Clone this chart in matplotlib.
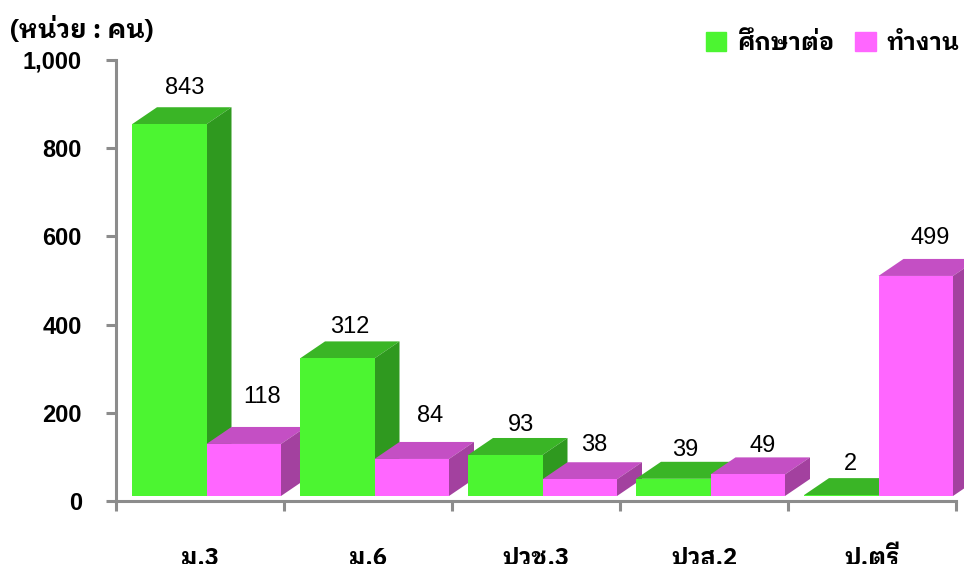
import matplotlib
matplotlib.use("Agg")
import matplotlib.pyplot as plt
from matplotlib import font_manager as fm
from matplotlib.patches import Patch

categories = ["ม.3", "ม.6", "ปวช.3", "ปวส.2", "ป.ตรี"]
study = [843, 312, 93, 39, 2]
work = [118, 84, 38, 49, 499]
series_names = ["ศึกษาต่อ", "ทำงาน"]
y_ticks = [0, 200, 400, 600, 800, 1000]
y_tick_labels = ["0", "200", "400", "600", "800", "1,000"]

W, H = 964, 564
fig = plt.figure(figsize=(W / 100, H / 100), dpi=100)
ax = fig.add_axes([116 / W, 1 - 501 / H, 840 / W, 441 / H])
ax.set_xlim(0, 5)
ax.set_ylim(0, 1000)

px_x = 5 / 840
px_y = 1000 / 441
depth_x = 25 * px_x
depth_y = 17 * px_y
base = 5 * px_y
bar_w = 74.5 * px_x
margin = 16 * px_x


def bar3d(x, value, front, top, side):
    y0 = base
    y1 = base + value
    ax.fill([x, x + bar_w, x + bar_w + depth_x, x + depth_x],
            [y1, y1, y1 + depth_y, y1 + depth_y], color=top, lw=0, clip_on=False)
    ax.fill([x + bar_w, x + bar_w + depth_x, x + bar_w + depth_x, x + bar_w],
            [y0, y0 + depth_y, y1 + depth_y, y1], color=side, lw=0, clip_on=False)
    ax.bar(x, value, bar_w, bottom=y0, align="edge", color=front, lw=0, clip_on=False)


for i in range(len(categories)):
    bar3d(i + margin, study[i], "#4CF531", "#3AB526", "#2F991F")
    bar3d(i + margin + bar_w, work[i], "#FF66FF", "#C44FC4", "#A3419F")

# labels were not placed consistently in the original, so per-label nudges
study_dy = [19, 14, 13, 12, 14]
work_dy = [30, 26, 17, 11, 21]
study_dx = [0, -2, 1, -3, -6]
work_dx = [3, 3, -1, 0, -1]
for i in range(len(categories)):
    for val, x, dx, dy in ((study[i], i + margin, study_dx[i], study_dy[i]),
                           (work[i], i + margin + bar_w, work_dx[i], work_dy[i])):
        ax.annotate(str(val), (x + bar_w / 2 + 15 * px_x, base + val + depth_y), xytext=(dx * 0.72, dy * 0.72),
                    textcoords="offset points", ha="center", va="center",
                    family="Liberation Sans", fontsize=17, color="black", clip_on=False)

for s in ("top", "right"):
    ax.spines[s].set_visible(False)
for s in ("left", "bottom"):
    ax.spines[s].set_color("#8C8C8C")
    ax.spines[s].set_linewidth(2.2)

ax.set_yticks(y_ticks, y_tick_labels, family="Liberation Sans", fontweight="bold", fontsize=17)
ax.set_xticks(range(6), [""] * 6)
ax.tick_params(axis="both", length=7.5, width=2.2, color="#8C8C8C")
ax.tick_params(axis="y", pad=17)

thai = ["IBM Plex Sans Thai Looped", "Liberation Sans", "DejaVu Sans"]
ax.set_xticks([i + 0.5 for i in range(5)], categories, minor=True, family=thai, fontweight="bold", fontsize=17)
ax.tick_params(axis="x", which="minor", length=0, pad=33)

fig.text(10 / W, 1 - 29 / H, "(หน่วย : คน)", family=thai, fontweight="bold", fontsize=18.5, va="center")

handles = [Patch(color="#4CF531"), Patch(color="#FF66FF")]
fig.legend(handles, series_names, loc="center right", bbox_to_anchor=(959 / W, 1 - 43.5 / H), ncol=2, frameon=False,
           prop=fm.FontProperties(family=thai, weight="bold", size=17), handlelength=0.85, handleheight=0.85,
           handletextpad=0.45, columnspacing=0.9, borderaxespad=0, borderpad=0)

fig.savefig("out.png", dpi=100)
